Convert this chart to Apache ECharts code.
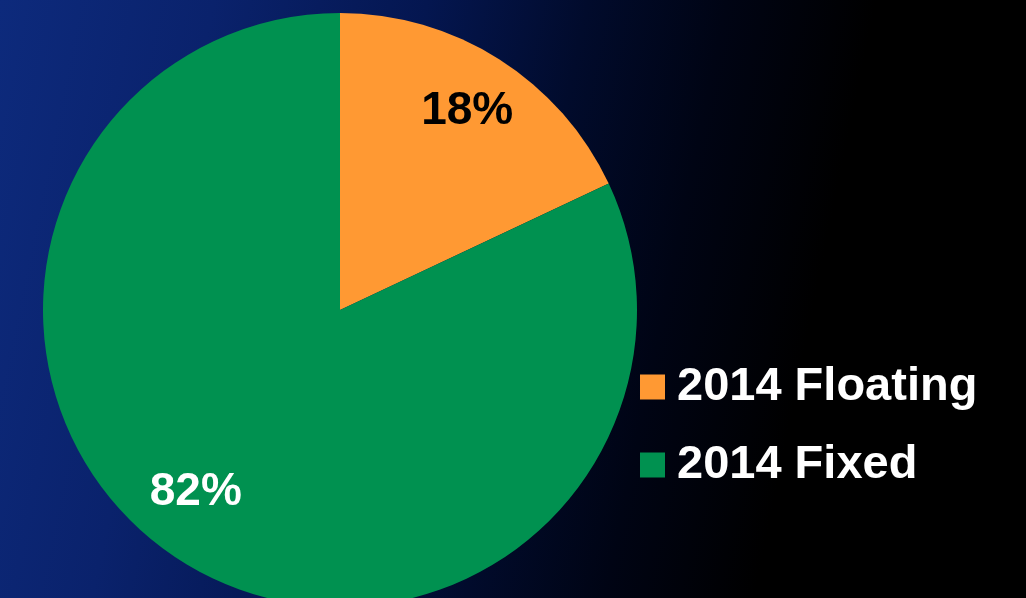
<!DOCTYPE html>
<html>
<head>
<meta charset="utf-8">
<script src="https://cdn.jsdelivr.net/npm/echarts@6/dist/echarts.min.js"></script>
<style>
html,body{margin:0;padding:0;background:#000;}
#chart{width:1026px;height:598px;}
</style>
</head>
<body>
<div id="chart"></div>
<script>
var categories = ['2014 Floating', '2014 Fixed'];
var values = [18, 82];
var sliceColors = ['#FF9933', '#009150'];
var labelColors = ['#000000', '#FFFFFF'];

var chart = echarts.init(document.getElementById('chart'), null, {renderer: 'canvas'});
var font = '"Liberation Sans", Arial, sans-serif';
var labelShift = [[46, -71], [-63, 54]];

chart.setOption({
  animation: false,
  backgroundColor: {
    type: 'linear', x: 0, y: 0, x2: 1, y2: 0.35,
    colorStops: [
      {offset: 0, color: '#0d2a7c'},
      {offset: 0.2, color: '#0a226c'},
      {offset: 0.4, color: '#041650'},
      {offset: 0.55, color: '#010b2c'},
      {offset: 0.68, color: '#000414'},
      {offset: 0.82, color: '#000000'},
      {offset: 1, color: '#000000'}
    ]
  },
  legend: {
    orient: 'vertical',
    left: 640,
    top: 359,
    padding: 0,
    icon: 'rect',
    itemWidth: 25,
    itemHeight: 25,
    itemGap: 22,
    data: categories,
    textStyle: {
      color: '#FFFFFF',
      fontSize: 47,
      fontWeight: 'bold',
      fontFamily: font,
      lineHeight: 53,
      padding: [3, 0, 0, 7]
    },
    selectedMode: false
  },
  series: [{
    type: 'pie',
    center: [340, 310],
    radius: [0, 297],
    startAngle: 90,
    clockwise: true,
    silent: true,
    itemStyle: {borderWidth: 0},
    label: {
      show: true,
      position: 'inside',
      formatter: '{c}%',
      fontSize: 46,
      fontWeight: 'bold',
      fontFamily: font
    },
    labelLine: {show: false},
    labelLayout: function (p) {
      return {dx: labelShift[p.dataIndex][0], dy: labelShift[p.dataIndex][1]};
    },
    emphasis: {disabled: true},
    data: categories.map(function (c, i) {
      return {
        name: c,
        value: values[i],
        itemStyle: {color: sliceColors[i]},
        label: {color: labelColors[i]}
      };
    })
  }]
});
</script>
</body>
</html>
